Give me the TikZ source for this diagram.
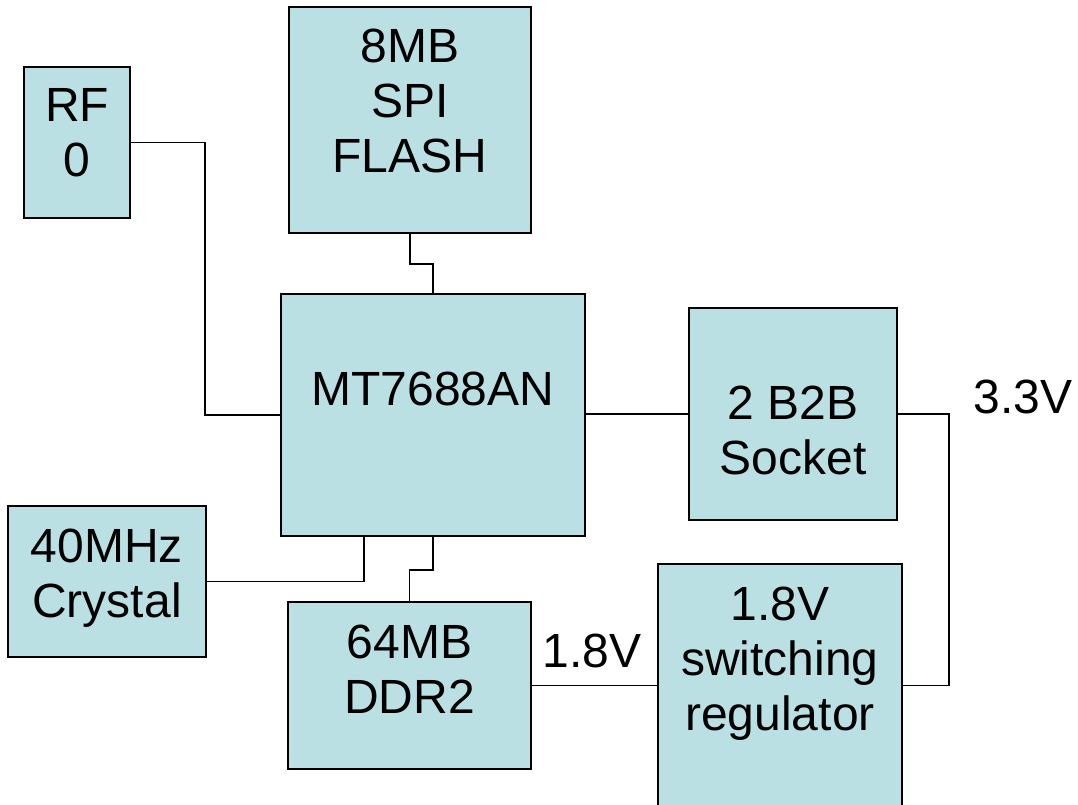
\documentclass[tikz,border=0pt]{standalone}
\usepackage{fontspec}
\setmainfont{Liberation Sans}
\definecolor{boxfill}{RGB}{187,224,227}
\begin{document}
\begin{tikzpicture}[x=1pt,y=-1pt,
  blk/.style={draw=black, line width=1.8pt, fill=boxfill, rectangle, inner sep=0pt},
  txt/.style={anchor=base, inner sep=0pt, font=\fontsize{48}{54}\selectfont},
  wire/.style={draw=black, line width=1.5pt}]
\clip (0,0) rectangle (1078,805);
\fill[white] (0,0) rectangle (1078,805);
% boxes
\node[blk, minimum width=106pt, minimum height=151pt] (rf) at (77,142.5) {};
\node[blk, minimum width=242pt, minimum height=226pt] (flash) at (410,120) {};
\node[blk, minimum width=304pt, minimum height=242pt] (mt) at (433,415) {};
\node[blk, minimum width=208pt, minimum height=212pt] (b2b) at (793,414) {};
\node[blk, minimum width=198pt, minimum height=151pt] (xtal) at (107,581.5) {};
\node[blk, minimum width=243pt, minimum height=167pt] (ddr) at (409.5,685.5) {};
\node[blk, minimum width=244pt, minimum height=251pt] (reg) at (780,689.5) {};
% texts
\node[txt] (rft1) at (77,122) {RF};
\node[txt] (rft2) at (77,177) {0};
\node[txt] (flt1) at (410,63) {8MB};
\node[txt] (flt2) at (410,118) {SPI};
\node[txt] (flt3) at (410,173) {FLASH};
\node[txt] (mtt) at (433,405) {MT7688AN};
\node[txt] (b2bt1) at (793,419) {2 B2B};
\node[txt] (b2bt2) at (793,474) {Socket};
\node[txt] (xtt1) at (107,562) {40MHz};
\node[txt] (xtt2) at (107,617) {Crystal};
\node[txt] (ddrt1) at (409.5,658) {64MB};
\node[txt] (ddrt2) at (409.5,713) {DDR2};
\node[txt] (regt1) at (780,620) {1.8V};
\node[txt] (regt2) at (780,675) {switching};
\node[txt] (regt3) at (780,730) {regulator};
\node[txt] (v18) at (592,667) {1.8V};
\node[txt] (v33) at (1023,413) {3.3V};
% connectors
\draw[wire] (rf.east) -- (205,142.5) |- (mt.west);
\draw[wire] (flash.south) -- ++(0,30) -| (mt.north);
\draw[wire] (mt.east |- b2b.west) -- (b2b.west);
\draw[wire] (xtal.east) -| ([xshift=-69pt]mt.south);
\draw[wire] (mt.south) -- ++(0,33) -| (ddr.north);
\draw[wire] (ddr.east) -- (ddr.east -| reg.west);
\draw[wire] (b2b.east) -| (949,685.5) -- (reg.east |- ddr.east);
\end{tikzpicture}
\end{document}
